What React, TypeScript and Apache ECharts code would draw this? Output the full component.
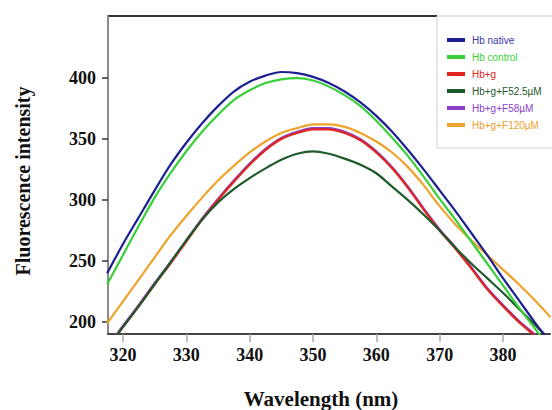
import React, { useEffect, useRef } from "react";
import * as echarts from "echarts";

const wavelengths = [317.5, 320, 322.5, 325, 327.5, 330, 332.5, 335, 337.5, 340, 342.5, 345, 347.5, 350, 352.5, 355, 357.5, 360, 362.5, 365, 367.5, 370, 372.5, 375, 377.5, 380, 382.5, 385, 387.5];

const hbNative = [240, 264, 286, 308, 329, 347, 363, 377, 389, 397, 402, 405, 404, 401, 396, 389, 380, 369, 356, 341, 325, 308, 291, 273, 255, 236, 218, 200, 183];
const hbControl = [231, 255, 279, 302, 322, 340, 356, 370, 382, 390, 396, 399, 400, 398, 393, 386, 377, 365, 351, 336, 319, 301, 284, 266, 248, 230, 212, 195, 178];
const hbG = [178, 196, 213, 231, 248, 266, 284, 300, 315, 329, 341, 350, 355, 358, 358, 355, 349, 339, 326, 310, 292, 275, 260, 244, 227, 213, 200, 189, 178];
const hbGF52 = [178, 196, 213, 231, 249, 267, 284, 298, 309, 318, 326, 333, 338, 340, 338, 334, 329, 322, 311, 300, 288, 275, 261, 248, 236, 224, 211, 198, 185];
const hbGF58 = [179, 197, 214, 232, 249, 267, 285, 301, 316, 330, 342, 351, 356, 359, 359, 356, 350, 340, 327, 311, 293, 276, 261, 245, 228, 214, 201, 190, 179];
const hbGF120 = [199, 217, 235, 253, 271, 287, 302, 316, 328, 339, 348, 355, 359, 362, 362, 360, 355, 348, 339, 327, 312, 295, 280, 267, 255, 243, 231, 218, 204];

const seriesNames = ["Hb native", "Hb control", "Hb+g", "Hb+g+F52.5µM", "Hb+g+F58µM", "Hb+g+F120µM"];
const seriesColors = ["#1c2090", "#38cf38", "#e0241e", "#1f5a2a", "#8a3fc6", "#efa22c"];
const legendTextColors = ["#3a3aa8", "#38cf38", "#e0241e", "#1f5a2a", "#8a3fc6", "#efa22c"];
const seriesValues = [hbNative, hbControl, hbG, hbGF52, hbGF58, hbGF120];
const drawOrder = [4, 5, 2, 3, 1, 0];

const xTicks = [320, 330, 340, 350, 360, 370, 380];
const yTicks = [200, 250, 300, 350, 400];

const serif = "'Liberation Serif', 'Times New Roman', serif";

export default function App() {
  const ref = useRef<HTMLDivElement>(null);
  useEffect(() => {
    if (!ref.current) return;
    const chart = echarts.init(ref.current, null, { renderer: "svg" });
    const series = drawOrder.map((i) => ({
      name: seriesNames[i],
      type: "line",
      data: wavelengths.map((w, k) => [w, seriesValues[i][k]]),
      smooth: 0.3,
      symbol: "none",
      clip: true,
      lineStyle: { color: seriesColors[i], width: 2.2 },
      itemStyle: { color: seriesColors[i] },
      z: 2,
    }));
    chart.setOption({
      animation: false,
      backgroundColor: "#ffffff",
      grid: { left: 108, right: 2, top: 16, bottom: 76 },
      xAxis: {
        type: "value",
        min: 317.63,
        max: 387.43,
        axisLine: { show: true, lineStyle: { color: "#444", width: 2 } },
        axisTick: { show: true, customValues: xTicks, length: 8, lineStyle: { color: "#aaa", width: 1.5 } },
        axisLabel: {
          customValues: xTicks,
          margin: 12,
          fontFamily: serif,
          fontWeight: "bold",
          fontSize: 18,
          color: "#111",
        },
        splitLine: { show: false },
      },
      yAxis: {
        type: "value",
        min: 190.2,
        max: 450.9,
        axisLine: { show: true, lineStyle: { color: "#8a8a8a", width: 2 } },
        axisTick: { show: true, customValues: yTicks, length: 6, lineStyle: { color: "#333", width: 1.5 } },
        axisLabel: {
          customValues: yTicks,
          margin: 12,
          fontFamily: serif,
          fontWeight: "bold",
          fontSize: 18,
          color: "#111",
        },
        splitLine: { show: false },
      },
      legend: {
        orient: "vertical",
        left: 437,
        top: 16,
        padding: [19, 30, 18, 10],
        itemGap: 7,
        itemWidth: 18,
        itemHeight: 4,
        icon: "rect",
        backgroundColor: "#ffffff",
        borderColor: "#cfcfcf",
        borderWidth: 1,
        data: seriesNames.map((n, i) => ({
          name: n,
          itemStyle: { color: seriesColors[i] },
          textStyle: { color: legendTextColors[i] },
        })),
        textStyle: { fontFamily: "'Liberation Sans', Arial, sans-serif", fontSize: 10, padding: [0, 0, 0, 2] },
      },
      graphic: [
        {
          type: "line",
          shape: { x1: 107, y1: 16, x2: 437, y2: 16 },
          style: { stroke: "#333", lineWidth: 2 },
          z: 0,
        },
        {
          type: "text",
          x: 321,
          y: 399,
          style: {
            text: "Wavelength (nm)",
            fontFamily: serif,
            fontWeight: "bold",
            fontSize: 21,
            fill: "#111",
            align: "center",
            verticalAlign: "middle",
          },
        },
        {
          type: "text",
          x: 23,
          y: 181,
          rotation: Math.PI / 2,
          style: {
            text: "Fluorescence intensity",
            fontFamily: serif,
            fontWeight: "bold",
            fontSize: 20,
            fill: "#111",
            align: "center",
            verticalAlign: "middle",
          },
        },
      ],
      series,
    });
    return () => chart.dispose();
  }, []);
  return <div ref={ref} style={{ width: 552, height: 410, position: "fixed", left: 0, top: 0 }} />;
}
